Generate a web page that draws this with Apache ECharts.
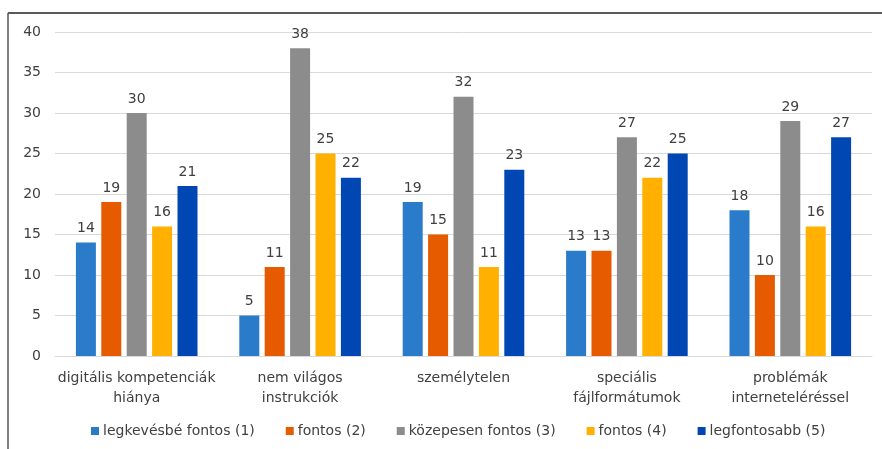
<!DOCTYPE html>
<html>
<head>
<meta charset="utf-8">
<script src="https://cdn.jsdelivr.net/npm/echarts@6/dist/echarts.min.js"></script>
<style>
    html, body { margin: 0; padding: 0; background: #fff; }
    #chart { width: 882px; height: 449px; }
</style>
</head>
<body>
<div id="chart"></div>
<script>
    var categories = ['digitális kompetenciák\nhiánya', 'nem világos\ninstrukciók', 'személytelen',
        'speciális\nfájlformátumok', 'problémák\ninterneteléréssel'];
    var seriesNames = ['legkevésbé fontos (1)', 'fontos (2)', 'közepesen fontos (3)', 'fontos (4)', 'legfontosabb (5)'];
    var values1 = [14, 5, 19, 13, 18];
    var values2 = [19, 11, 15, 13, 10];
    var values3 = [30, 38, 32, 27, 29];
    var values4 = [16, 25, 11, 22, 16];
    var values5 = [21, 22, 23, 25, 27];
    var colors = ['#2a7ccb', '#e65a00', '#8c8c8c', '#ffb000', '#0047b4'];

    var font = 'DejaVu Sans';
    var allValues = [values1, values2, values3, values4, values5];
    var series = [];
    for (var i = 0; i < allValues.length; i++) {
        series.push({
            name: seriesNames[i],
            type: 'bar',
            data: allValues[i],
            barWidth: 20,
            barGap: '27%',
            itemStyle: {color: colors[i]},
            label: {
                show: true,
                position: 'top',
                distance: 7,
                color: '#404040',
                fontFamily: font,
                fontSize: 14
            }
        });
    }

    var myChart = echarts.init(document.getElementById('chart'));
    myChart.setOption({
        animation: false,
        color: colors,
        grid: {left: 55, right: 10, top: 32, bottom: 93},
        legend: {
            bottom: 6,
            left: 86,
            itemWidth: 8,
            itemHeight: 8,
            itemGap: 31,
            icon: 'rect',
            textStyle: {color: '#404040', fontFamily: font, fontSize: 14, padding: [0, 0, 0, -1]}
        },
        xAxis: {
            type: 'category',
            data: categories,
            axisLine: {lineStyle: {color: '#d9d9d9'}},
            axisTick: {show: false},
            axisLabel: {interval: 0, color: '#404040', fontFamily: font, fontSize: 14, lineHeight: 20, margin: 12}
        },
        yAxis: {
            type: 'value',
            min: 0,
            max: 40,
            interval: 5,
            axisLine: {show: false},
            axisTick: {show: false},
            splitLine: {lineStyle: {color: '#d9d9d9'}},
            axisLabel: {color: '#404040', fontFamily: font, fontSize: 14, margin: 14}
        },
        graphic: [
            {type: 'line', shape: {x1: 8, y1: 13, x2: 882, y2: 13}, style: {stroke: '#222', lineWidth: 1.5}},
            {type: 'line', shape: {x1: 8, y1: 13, x2: 8, y2: 449}, style: {stroke: '#555', lineWidth: 1.5}}
        ],
        series: series
    });
</script>
</body>
</html>
